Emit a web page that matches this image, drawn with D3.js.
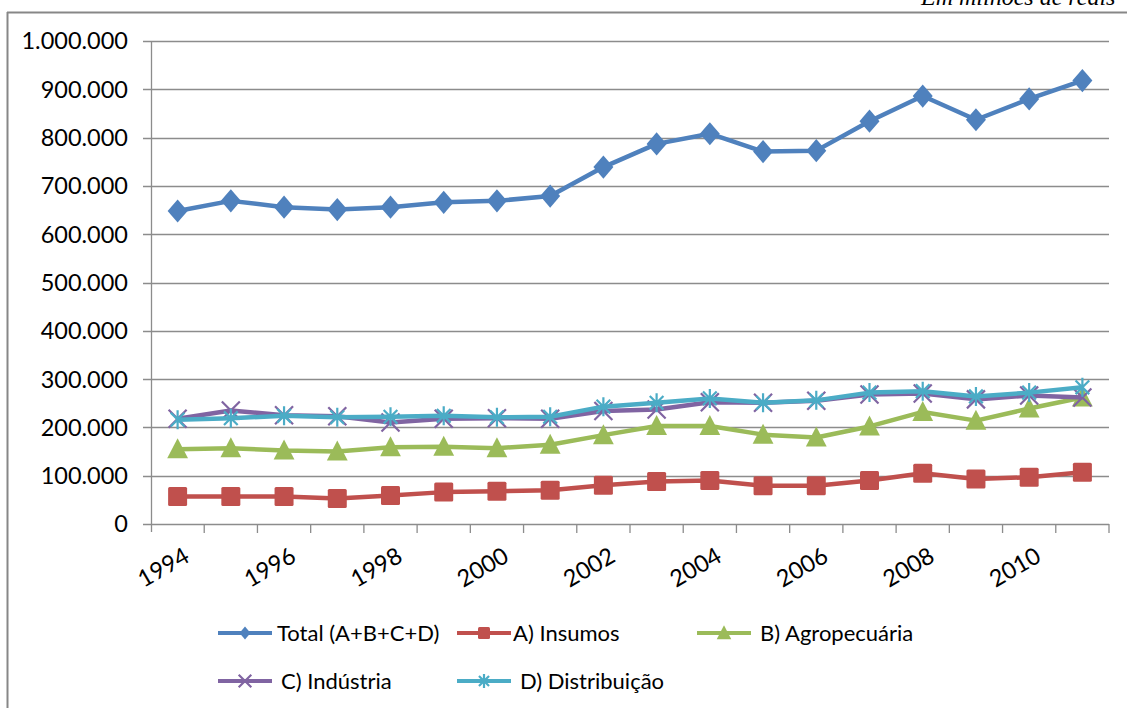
<!DOCTYPE html>
<html>
<head>
<meta charset="utf-8">
<script src="https://d3js.org/d3.v7.min.js"></script>
<style>
  body { margin: 0; background: #fff; }
  text { font-family: Lato, "Open Sans", sans-serif; fill: #000; }
</style>
</head>
<body>
<div id="chart"></div>
<script>
var years = d3.range(1994, 2012);
var tickYears = [1994, 1996, 1998, 2000, 2002, 2004, 2006, 2008, 2010];
var yTicks = [0, 100000, 200000, 300000, 400000, 500000, 600000, 700000, 800000, 900000, 1000000];

// em milhões de reais
var total       = [648, 669, 656, 651, 656, 666, 669, 679, 739, 787, 808, 771, 773, 834, 886, 837, 880, 918];
var insumos     = [57, 57, 57, 53, 59, 66, 68, 70, 80, 88, 90, 79, 79, 90, 105, 93, 97, 107];
var agro        = [155, 157, 152, 150, 159, 160, 157, 164, 184, 203, 203, 185, 179, 202, 232, 214, 239, 262];
var industria   = [218, 235, 225, 223, 210, 218, 219, 218, 234, 237, 252, 251, 255, 268, 270, 258, 266, 262];
var distribuicao = [216, 219, 224, 221, 222, 224, 221, 222, 243, 251, 260, 251, 256, 272, 275, 264, 272, 283];

var seriesNames = ["Total (A+B+C+D)", "A) Insumos", "B) Agropecuária", "C) Indústria", "D) Distribuição"];
var seriesValues = [total, insumos, agro, industria, distribuicao];
var seriesColors = ["#4F81BD", "#C0504D", "#9BBB59", "#8064A2", "#4BACC6"];
var seriesMarkers = ["diamond", "square", "triangle", "x", "star"];

var width = 1127, height = 708;
var plotLeft = 151, plotRight = 1109, plotTop = 41, plotBottom = 524;

var svg = d3.select("#chart").append("svg")
    .attr("width", width)
    .attr("height", height);

// outer frame
svg.append("line").attr("x1", 7).attr("x2", width).attr("y1", 12.5).attr("y2", 12.5)
    .attr("stroke", "#878787").attr("stroke-width", 2);
svg.append("line").attr("x1", 7.5).attr("x2", 7.5).attr("y1", 12).attr("y2", height)
    .attr("stroke", "#878787").attr("stroke-width", 2);

svg.append("text")
    .attr("x", 921).attr("y", 5)
    .style("font-family", "'Liberation Serif', 'DejaVu Serif', serif")
    .style("font-style", "italic")
    .attr("font-size", 24)
    .text("Em milhões de reais");

var x = d3.scaleBand().domain(years).range([plotLeft, plotRight]);
var y = d3.scaleLinear().domain([0, 1000000]).range([plotBottom, plotTop]);

// gridlines
svg.append("g").selectAll("line")
    .data(yTicks)
    .enter().append("line")
    .attr("x1", plotLeft - 8).attr("x2", plotRight)
    .attr("y1", d => Math.round(y(d)) + 0.5).attr("y2", d => Math.round(y(d)) + 0.5)
    .attr("stroke", "#8c8c8c").attr("stroke-width", 1.3);

// y axis line
svg.append("line")
    .attr("x1", plotLeft + 0.5).attr("x2", plotLeft + 0.5)
    .attr("y1", plotTop).attr("y2", plotBottom + 8)
    .attr("stroke", "#8c8c8c").attr("stroke-width", 1.3);

// x ticks at category boundaries
svg.append("g").selectAll("line")
    .data(years.slice(1).concat(["end"]))
    .enter().append("line")
    .attr("x1", d => d === "end" ? plotRight : x(d))
    .attr("x2", d => d === "end" ? plotRight : x(d))
    .attr("y1", plotBottom).attr("y2", plotBottom + 9)
    .attr("stroke", "#8c8c8c").attr("stroke-width", 1.3);

var fmt = d3.formatLocale({decimal: ",", thousands: ".", grouping: [3], currency: ["R$", ""]}).format(",d");

svg.append("g").selectAll("text")
    .data(yTicks)
    .enter().append("text")
    .attr("x", 128)
    .attr("y", d => y(d))
    .attr("dy", "0.36em")
    .attr("text-anchor", "end")
    .attr("font-size", 23.5)
    .text(d => fmt(d));

svg.append("g").selectAll("text")
    .data(tickYears)
    .enter().append("text")
    .attr("transform", d => "translate(" + (x(d) + x.bandwidth() / 2 + 5) + "," + (546) + ") rotate(-30)")
    .attr("text-anchor", "end")
    .attr("dy", "0.72em")
    .attr("font-size", 23.5)
    .text(d => d);

function drawMarker(g, type, color, s) {
    if (type === "diamond") {
        g.append("path").attr("d", "M0," + (-s * 0.58) + "L" + (s * 0.5) + ",0L0," + (s * 0.58) + "L" + (-s * 0.5) + ",0Z")
            .attr("fill", color);
    } else if (type === "square") {
        g.append("rect").attr("x", -s / 2).attr("y", -s / 2).attr("width", s).attr("height", s)
            .attr("rx", 1.5).attr("fill", color);
    } else if (type === "triangle") {
        g.append("path").attr("d", "M0," + (-s * 0.55) + "L" + (s * 0.52) + "," + (s * 0.45) + "L" + (-s * 0.52) + "," + (s * 0.45) + "Z")
            .attr("fill", color);
    } else if (type === "x") {
        var h = s * 0.45;
        g.append("path").attr("d", "M" + (-h) + "," + (-h) + "L" + h + "," + h + "M" + (-h) + "," + h + "L" + h + "," + (-h))
            .attr("stroke", color).attr("stroke-width", 2.2).attr("fill", "none");
    } else if (type === "star") {
        var r = s * 0.5, d = r * 0.72;
        g.append("path").attr("d", "M" + (-d) + "," + (-d) + "L" + d + "," + d + "M" + (-d) + "," + d + "L" + d + "," + (-d) +
                "M0," + (-r) + "L0," + r)
            .attr("stroke", color).attr("stroke-width", 2.2).attr("fill", "none");
    }
}

var line = d3.line()
    .x((d, i) => x(years[i]) + x.bandwidth() / 2)
    .y(d => y(d * 1000));

var markerSize = [20, 19, 20, 20, 19];

seriesValues.forEach(function(vals, k) {
    var g = svg.append("g");
    g.append("path")
        .datum(vals)
        .attr("d", line)
        .attr("fill", "none")
        .attr("stroke", seriesColors[k])
        .attr("stroke-width", 4.5)
        .attr("stroke-linejoin", "round");
    vals.forEach(function(v, i) {
        var m = g.append("g")
            .attr("transform", "translate(" + (x(years[i]) + x.bandwidth() / 2) + "," + y(v * 1000) + ")");
        drawMarker(m, seriesMarkers[k], seriesColors[k], markerSize[k]);
    });
});

// legend
var legendPos = [[218, 633], [457, 633], [697, 633], [218, 681], [457, 681]];
var legendTextX = [277, 513, 760, 281, 520];
var legendMarker = [11, 12, 14, 14, 14];
seriesNames.forEach(function(name, k) {
    var p = legendPos[k];
    var g = svg.append("g");
    g.append("line")
        .attr("x1", p[0]).attr("x2", p[0] + 54)
        .attr("y1", p[1]).attr("y2", p[1])
        .attr("stroke", seriesColors[k]).attr("stroke-width", 4);
    var m = g.append("g").attr("transform", "translate(" + (p[0] + 27) + "," + p[1] + ")");
    drawMarker(m, seriesMarkers[k], seriesColors[k], legendMarker[k]);
    g.append("text")
        .attr("x", legendTextX[k])
        .attr("y", p[1])
        .attr("dy", "0.36em")
        .attr("font-size", 22)
        .text(name);
});
</script>
</body>
</html>
